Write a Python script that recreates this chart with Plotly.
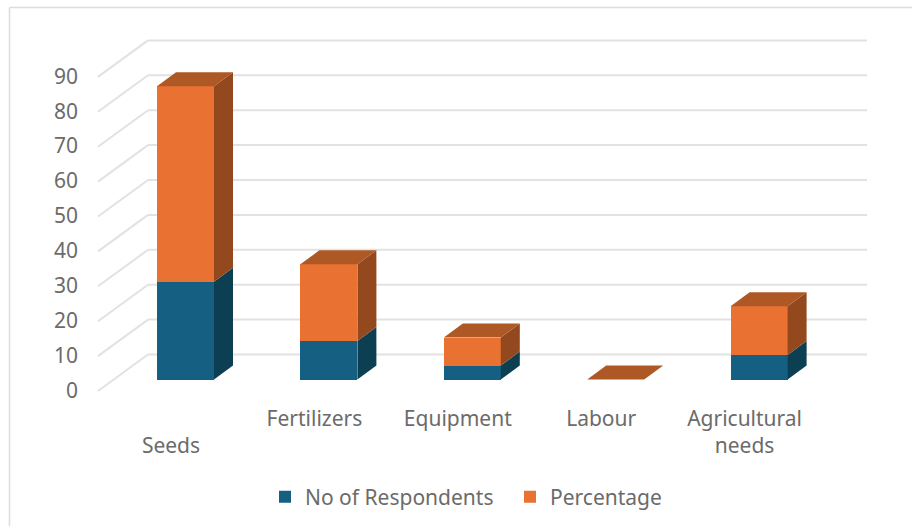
import numpy as np
import plotly.graph_objects as go

categories = ["Seeds", "Fertilizers", "Equipment", "Labour", "Agricultural needs"]
label_line1 = ["", "Fertilizers", "Equipment", "Labour", "Agricultural"]
label_line2 = ["Seeds", "", "", "", "needs"]
respondents = [28, 11, 4, 0, 7]
percentage = [56, 22, 8, 0, 14]
y_ticks = [0, 10, 20, 30, 40, 50, 60, 70, 80, 90]

W, H = 912, 526
X0_PX, X_STEP = 185.5, 143.4
Y0_PX, Y_UNIT = 379.5, 3.49
px_x = lambda p: (p - X0_PX) / X_STEP
dx_u = lambda p: p / X_STEP
dy_u = lambda p: p / Y_UNIT

BLUE, ORANGE = "#156082", "#E97132"
BLUE_SIDE, ORANGE_SIDE, ORANGE_TOP = "#0D3F53", "#94481E", "#AE5826"
TEXT = "#6B6B6B"
GRID = "#E2E2E2"
FONT = "Noto Sans"
FONT_SIZE = 21

idx = np.arange(len(categories))
resp = np.array(respondents, float)
pct = np.array(percentage, float)
half = dx_u(28.5)
ddx, ddy = dx_u(19), dy_u(14)

fig = go.Figure()
fig.add_bar(x=idx, y=resp, width=half * 2, marker=dict(color=BLUE, line_width=0), name="No of Respondents")
fig.add_bar(x=idx, y=pct, width=half * 2, marker=dict(color=ORANGE, line_width=0), name="Percentage")


def face(xs, ys, color):
    fig.add_scatter(x=xs, y=ys, mode="lines", fill="toself", fillcolor=color,
                    line=dict(width=0, color=color), showlegend=False, hoverinfo="skip")


for i in idx:
    xr = i + half
    xl = i - half
    if resp[i] > 0:
        face([xr, xr + ddx, xr + ddx, xr, xr], [0, ddy, resp[i] + ddy, resp[i], 0], BLUE_SIDE)
    total = resp[i] + pct[i]
    if pct[i] > 0:
        face([xr, xr + ddx, xr + ddx, xr, xr],
             [resp[i], resp[i] + ddy, total + ddy, total, resp[i]], ORANGE_SIDE)
    face([xl, xr, xr + ddx, xl + ddx, xl], [total, total, total + ddy, total + ddy, total], ORANGE_TOP)

# value labels on the axis
label_x = px_x(78)
fig.add_scatter(x=[label_x] * len(y_ticks), y=[v - dy_u(13) for v in y_ticks],
                text=[str(v) for v in y_ticks], mode="text", textposition="middle left",
                textfont=dict(family=FONT, size=FONT_SIZE, color=TEXT), showlegend=False, hoverinfo="skip")
# category labels
cat_x = idx - dx_u(14.5)
fig.add_scatter(x=cat_x, y=[-dy_u(41)] * len(idx), text=label_line1, mode="text",
                textposition="middle center", textfont=dict(family=FONT, size=FONT_SIZE, color=TEXT),
                showlegend=False, hoverinfo="skip")
fig.add_scatter(x=cat_x, y=[-dy_u(68)] * len(idx), text=label_line2, mode="text",
                textposition="middle center", textfont=dict(family=FONT, size=FONT_SIZE, color=TEXT),
                showlegend=False, hoverinfo="skip")

shapes = []
front_x, back_x, end_x = px_x(98), px_x(148), px_x(867)
front_dy, back_dy = -dy_u(11.5), dy_u(25)
for v in y_ticks:
    shapes.append(dict(type="line", layer="below", xref="x", yref="y", x0=front_x, x1=back_x,
                       y0=v + front_dy, y1=v + back_dy, line=dict(color=GRID, width=2)))
    shapes.append(dict(type="line", layer="below", xref="x", yref="y", x0=back_x, x1=end_x,
                       y0=v + back_dy, y1=v + back_dy, line=dict(color=GRID, width=2)))
# chart frame
shapes.append(dict(type="line", xref="paper", yref="paper", x0=9.5 / W, x1=9.5 / W, y0=0, y1=1 - 7.5 / H,
                   line=dict(color="#DCDCDC", width=1.5)))
shapes.append(dict(type="line", xref="paper", yref="paper", x0=9.5 / W, x1=1, y0=1 - 7.5 / H, y1=1 - 7.5 / H,
                   line=dict(color="#DCDCDC", width=1.5)))

fig.update_layout(
    width=W, height=H, margin=dict(l=0, r=0, t=0, b=0), paper_bgcolor="white", plot_bgcolor="white",
    barmode="stack", shapes=shapes, showlegend=True,
    xaxis=dict(range=[px_x(0), px_x(W)], visible=False, fixedrange=True),
    yaxis=dict(range=[(Y0_PX - H) / Y_UNIT, Y0_PX / Y_UNIT], visible=False, fixedrange=True),
    legend=dict(orientation="h", x=265 / W, xanchor="left", y=1 - 497 / H, yanchor="middle",
                font=dict(family=FONT, size=FONT_SIZE, color=TEXT), bgcolor="rgba(0,0,0,0)",
                entrywidth=200, entrywidthmode="pixels", traceorder="normal"),
)
fig.write_html("out.html", config={"displayModeBar": False},
               post_script="document.body.style.margin='0';document.body.style.overflow='hidden';")
